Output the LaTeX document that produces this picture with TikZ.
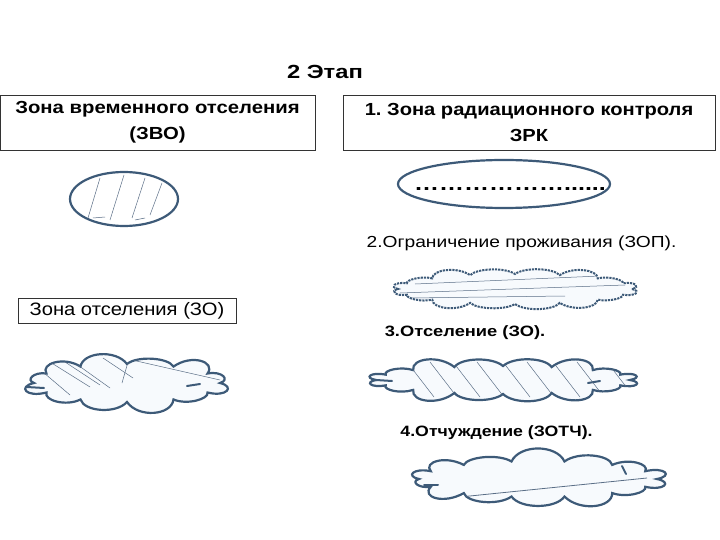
\documentclass[tikz,border=0pt]{standalone}
\usepackage{fontspec}
\setmainfont{Liberation Sans}
\usetikzlibrary{shapes.geometric}
\definecolor{zline}{HTML}{3D5A78}
\definecolor{zfill}{HTML}{F7FAFD}
\definecolor{hatch}{HTML}{5A6E86}
% builds a cloud outline into macro #1: cx, cy, rx, ry, puffs, bulge
\newcommand\mkcloud[7]{%
  \pgfmathsetmacro\cstx{#2+#4}%
  \xdef\cloudtmp{(\cstx,#3)}%
  \foreach \k in {1,...,#6}{%
    \pgfmathsetmacro\cbx{#4+#7*(1+0.35*sin(\k*137))}%
    \pgfmathsetmacro\cby{#5+#7*(1+0.35*sin(\k*137))}%
    \pgfmathsetmacro\cxa{#2+\cbx*cos((\k-0.8)*360/#6)}%
    \pgfmathsetmacro\cya{#3+\cby*sin((\k-0.8)*360/#6)}%
    \pgfmathsetmacro\cxb{#2+\cbx*cos((\k-0.2)*360/#6)}%
    \pgfmathsetmacro\cyb{#3+\cby*sin((\k-0.2)*360/#6)}%
    \pgfmathsetmacro\cxc{#2+#4*cos(\k*360/#6)}%
    \pgfmathsetmacro\cyc{#3+#5*sin(\k*360/#6)}%
    \xdef\cloudtmp{\cloudtmp .. controls (\cxa,\cya) and (\cxb,\cyb) .. (\cxc,\cyc)}%
  }%
  \global\let#1\cloudtmp}
\newcommand\widetext[2]{\scalebox{#1}[1]{#2}}
\mkcloud\cloudZOP{515}{289}{117}{15}{16}{8}
\mkcloud\cloudZO{127}{383}{93}{19}{12}{13}
\mkcloud\cloudOT{503}{380}{127}{14}{16}{11}
\mkcloud\cloudOTCH{538}{479}{119}{18}{14}{13}
\begin{document}
\begin{tikzpicture}[x=1pt,y=-1pt,
  titlebox/.style={draw=black!80, line width=0.8pt, minimum height=55pt, align=center,
     font=\bfseries\fontsize{17.5}{26}\selectfont, inner sep=0pt},
  zone/.style={draw=zline, fill=zfill, line width=2.2pt},
  hatchline/.style={draw=hatch, line width=0.5pt},
  stub/.style={draw=zline, line width=2pt, line cap=round}
]
\useasboundingbox (0,0) rectangle (720,540);

\node[font=\bfseries\fontsize{19}{22}\selectfont, inner sep=0pt] (title) at (325,72) {\widetext{1.25}{2 Этап}};

\node[titlebox, minimum width=315pt] (zvo) at (157.5,122.5) {\widetext{1.16}{Зона временного отселения}\\\widetext{1.16}{(ЗВО)}};
\node[titlebox, minimum width=372pt] (zrk) at (529,122.5) {\widetext{1.15}{1.\ Зона радиационного контроля}\\\widetext{1.15}{ЗРК}};

% ZVO ellipse
\node[zone, fill=white, ellipse, minimum width=108pt, minimum height=54pt, inner sep=0pt] (e1) at (124,199) {};
\draw[hatchline] (88,218) -- (100,178);
\draw[hatchline] (110,220) -- (124,175);
\draw[hatchline] (132,218) -- (145,178);
\draw[hatchline] (150,215) -- (162,183);
\draw[hatchline] (93,218) -- (105,217);
\draw[hatchline] (135,220) -- (145,218);

% ZRK ellipse
\node[zone, fill=white, ellipse, minimum width=212pt, minimum height=48pt, inner sep=0pt] (e2) at (504,184) {};
\node[font=\bfseries\fontsize{20}{22}\selectfont, inner sep=0pt, anchor=base] (dots) at (510,191) {\widetext{1.25}{………………......}};

% ZOP
\node[font=\fontsize{16}{18}\selectfont, inner sep=0pt] (t2) at (521.5,243) {\widetext{1.2}{2.Ограничение проживания (ЗОП).}};
\draw[zone, densely dotted, line width=2pt] \cloudZOP -- cycle;
\begin{scope}
\clip \cloudZOP -- cycle;
\draw[hatchline] (415,284) -- (600,276);
\draw[hatchline] (400,293) -- (625,285);
\draw[hatchline] (410,298) -- (565,296);
\end{scope}

% ZO box and cloud
\node[draw=black!80, line width=0.8pt, minimum width=218pt, minimum height=25pt, inner sep=0pt,
      font=\fontsize{18}{20}\selectfont] (zo) at (127,310.5) {\widetext{1.12}{Зона отселения (ЗО)}};
\draw[zone] \cloudZO -- cycle;
\begin{scope}
\clip \cloudZO -- cycle;
\draw[stub] (27,387) -- (44,388);
\draw[stub] (187,386) -- (200,384);
\draw[hatchline] (37,367) -- (70,395);
\draw[hatchline] (50,362) -- (90,387);
\draw[hatchline] (62,360) -- (100,385);
\draw[hatchline] (68,358) -- (110,388);
\draw[hatchline] (103,358) -- (133,378);
\draw[hatchline] (128,362) -- (122,383);
\draw[hatchline] (132,360) -- (220,380);
\end{scope}

% Otselenie
\node[font=\bfseries\fontsize{15}{17}\selectfont, inner sep=0pt] (t3) at (465,333) {\widetext{1.22}{3.Отселение (ЗО).}};
\draw[zone] \cloudOT -- cycle;
\begin{scope}
\clip \cloudOT -- cycle;
\draw[stub] (376,380) -- (392,381);
\draw[stub] (588,383) -- (600,381);
\foreach \xx in {407,430,453,477,503,527,553,577,607}
  \draw[hatchline] (\xx,362) -- (\xx+27,397);
\end{scope}

% Otchuzhdenie
\node[font=\bfseries\fontsize{15}{17}\selectfont, inner sep=0pt] (t4) at (496.5,433) {\widetext{1.18}{4.Отчуждение (ЗОТЧ).}};
\draw[zone] \cloudOTCH -- cycle;
\begin{scope}
\clip \cloudOTCH -- cycle;
\draw[stub] (424,485) -- (438,485);
\draw[stub] (622,466) -- (626,474);
\draw[hatchline, line width=0.8pt] (460,497) -- (647,478);
\end{scope}
\end{tikzpicture}
\end{document}
